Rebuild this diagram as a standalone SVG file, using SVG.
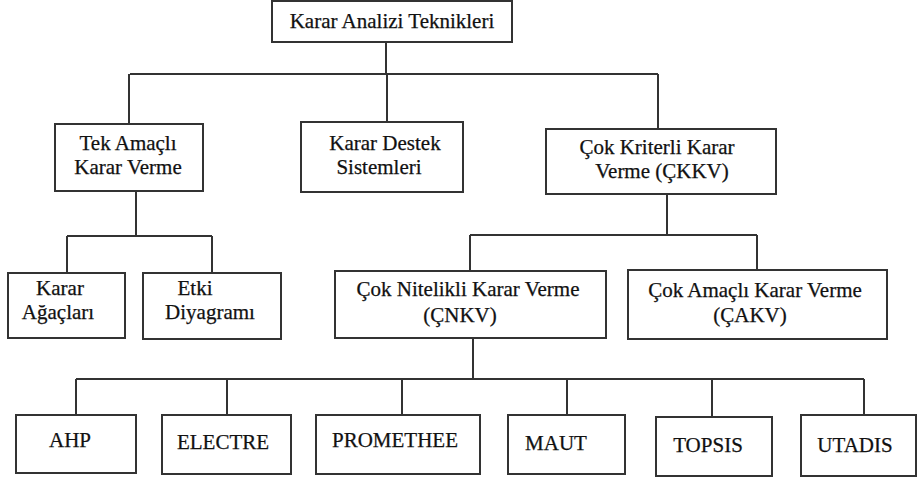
<svg xmlns="http://www.w3.org/2000/svg" width="917" height="479" viewBox="0 0 917 479">
<style>
.box{fill:#fff;stroke:#333;stroke-width:2}
.ln{fill:none;stroke:#333;stroke-width:2}
text{font-family:"Liberation Serif","Times New Roman",serif;font-size:21px;fill:#111;text-anchor:middle;stroke:#111;stroke-width:0.25}
</style>
<rect width="917" height="479" fill="#fff"/>
<g id="connectors">
<path class="ln" d="M386 42V74M130 74H658M129 74V124M387 74V122M658 74V129"/>
<path class="ln" d="M136 191V236M67 236H212M67 236V273M212 236V273"/>
<path class="ln" d="M667 194V235M470 235H757M470 235V271M757 235V270"/>
<path class="ln" d="M473 338V379M76 379H864M76 379V415M227 379V415M402 379V415M567 379V415M712 379V417M864 379V415"/>
</g>
<g id="n-root"><rect class="box" x="272" y="1" width="240" height="41"/><text x="392" y="28">Karar Analizi Teknikleri</text></g>
<g id="n-tek"><rect class="box" x="55" y="124" width="148" height="67"/><text x="128" y="150">Tek Amaçlı</text><text x="128" y="174">Karar Verme</text></g>
<g id="n-kds"><rect class="box" x="301" y="122" width="162" height="70"/><text x="385" y="150">Karar Destek</text><text x="379" y="174">Sistemleri</text></g>
<g id="n-ckkv"><rect class="box" x="546" y="129" width="230" height="65"/><text x="657" y="154">Çok Kriterli Karar</text><text x="662" y="178">Verme (ÇKKV)</text></g>
<g id="n-agac"><rect class="box" x="8" y="273" width="117" height="65"/><text x="60" y="295">Karar</text><text x="58" y="319">Ağaçları</text></g>
<g id="n-etki"><rect class="box" x="143" y="273" width="138" height="66"/><text x="195" y="295">Etki</text><text x="210" y="319">Diyagramı</text></g>
<g id="n-cnkv"><rect class="box" x="335" y="271" width="271" height="67"/><text x="468" y="296">Çok Nitelikli Karar Verme</text><text x="460" y="322">(ÇNKV)</text></g>
<g id="n-cakv"><rect class="box" x="628" y="270" width="259" height="69"/><text x="755" y="297">Çok Amaçlı Karar Verme</text><text x="750" y="322">(ÇAKV)</text></g>
<g id="n-ahp"><rect class="box" x="16" y="415" width="120" height="58"/><text x="70" y="447">AHP</text></g>
<g id="n-electre"><rect class="box" x="162" y="415" width="129" height="59"/><text x="223" y="449">ELECTRE</text></g>
<g id="n-promethee"><rect class="box" x="316" y="415" width="164" height="59"/><text x="395" y="447">PROMETHEE</text></g>
<g id="n-maut"><rect class="box" x="508" y="415" width="117" height="59"/><text x="556" y="450">MAUT</text></g>
<g id="n-topsis"><rect class="box" x="656" y="417" width="116" height="59"/><text x="708" y="452">TOPSIS</text></g>
<g id="n-utadis"><rect class="box" x="801" y="415" width="115" height="61"/><text x="855" y="452">UTADIS</text></g>
</svg>
